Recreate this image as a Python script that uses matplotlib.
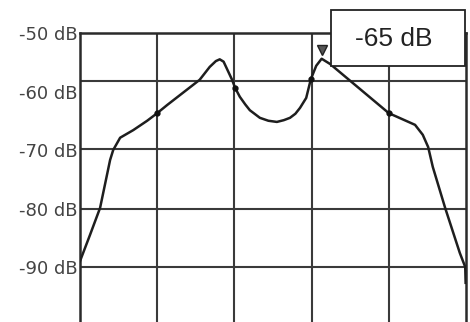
import matplotlib
matplotlib.use("Agg")
import matplotlib.pyplot as plt
from matplotlib.patches import Rectangle

# trace (x in divisions, y in dB)
freq = [0.0, 0.13, 0.26, 0.39, 0.43, 0.52, 0.69, 0.87, 1.0, 1.13, 1.55, 1.68,
        1.76, 1.81, 1.86, 1.97, 2.01, 2.07, 2.14, 2.20, 2.33, 2.44, 2.55, 2.64,
        2.72, 2.79, 2.85, 2.93, 2.99, 3.06, 3.13, 3.24, 4.0, 4.34, 4.44, 4.51,
        4.57, 4.73, 4.92, 4.99, 4.995]
level = [-89.0, -84.5, -79.9, -71.7, -70.0, -67.9, -66.6, -65.0, -63.7, -62.3,
         -58.0, -55.8, -54.8, -54.5, -54.9, -58.0, -59.4, -60.9, -62.2, -63.2,
         -64.5, -65.0, -65.2, -64.9, -64.5, -63.8, -62.8, -61.1, -57.9, -55.6,
         -54.4, -55.3, -63.7, -65.7, -67.4, -69.5, -72.9, -79.9, -87.6, -90.0,
         -92.7]

dot_freq = [1.0, 2.01, 2.99, 4.0]
dot_level = [-63.7, -59.4, -57.9, -63.7]

marker_freq = 3.13
marker_level = -52.9
marker_text = "-65 dB"

y_ticks = [-50, -60, -70, -80, -90]
y_labels = ["-50 dB", "-60 dB", "-70 dB", "-80 dB", "-90 dB"]
grid_levels = [-58.2, -69.8, -80, -90]
grid_freqs = [1, 2, 3, 4]

fig = plt.figure(figsize=(4.7, 3.22), dpi=100)
ax = fig.add_axes([80 / 470, 0, 386 / 470, 289 / 322])
ax.set_xlim(0, 5)
ax.set_ylim(-99.4, -50)

for g in grid_levels:
    ax.axhline(g, color="#3a3a3a", linewidth=1.5, zorder=1)
for g in grid_freqs:
    ax.axvline(g, color="#3a3a3a", linewidth=1.5, zorder=1)

ax.plot(freq, level, color="#1e1e1e", linewidth=1.8, zorder=3)
ax.plot(dot_freq, dot_level, "o", color="#111111", markersize=3.5, zorder=4)
ax.plot([marker_freq], [marker_level], "v", color="#555555", markeredgecolor="#222222",
        markersize=7, zorder=4)

ax.set_xticks([])
ax.set_yticks(y_ticks)
ax.set_yticklabels(y_labels, fontsize=13, color="#444444", family="DejaVu Sans")
ax.tick_params(axis="y", length=0, pad=2)
for side in ["left", "top", "right"]:
    ax.spines[side].set_color("#2a2a2a")
    ax.spines[side].set_linewidth(1.8)
ax.spines["bottom"].set_visible(False)

# readout box over the top right corner
fig.patches.append(Rectangle((331 / 470, 1 - 66 / 322), 134 / 470, 56 / 322,
                             transform=fig.transFigure, facecolor="white",
                             edgecolor="#222222", linewidth=1.3, zorder=10))
fig.text(394 / 470, 1 - 39 / 322, marker_text, ha="center", va="center",
         fontsize=19, family="Liberation Sans", color="#222222", zorder=11)

fig.savefig("out.png", dpi=100)
